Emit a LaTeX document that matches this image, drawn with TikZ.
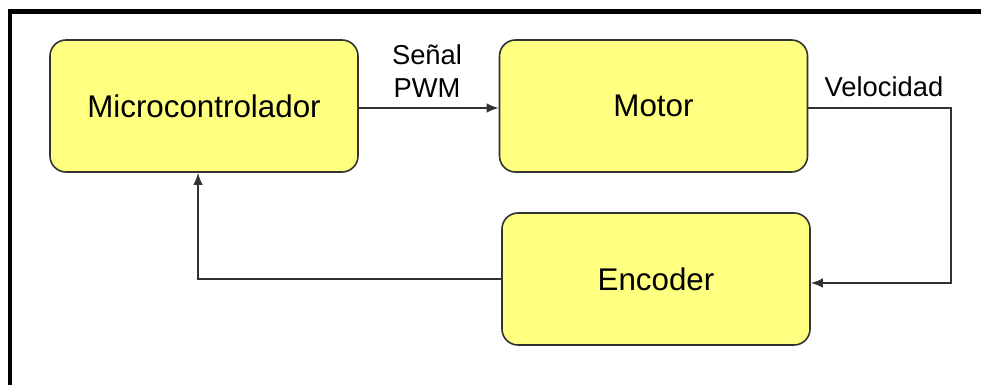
\documentclass[tikz,border=0pt]{standalone}
\usepackage{fontspec}
\setmainfont{Liberation Sans}
\usetikzlibrary{arrows.meta}
\definecolor{boxfill}{RGB}{255,255,128}
\definecolor{edge}{RGB}{50,50,50}
\tikzset{
  blk/.style={draw=edge, line width=1.2pt, fill=boxfill, rounded corners=12pt, minimum width=308*0.75pt, minimum height=132*0.75pt, inner sep=0pt, font=\fontsize{23.5}{28}\selectfont},
  lbl/.style={font=\fontsize{20.5}{24.5}\selectfont, inner sep=0pt, align=center},
  conn/.style={draw=edge, line width=1pt, -{Latex[length=9pt,width=7pt]}},
}
\begin{document}
\begin{tikzpicture}[x=0.75pt,y=-0.75pt]
\useasboundingbox (0,0) rectangle (981,385);
\fill[white] (0,0) rectangle (981,385);
\draw[line width=3.2pt] (10,385) -- (10,11.5) -- (981,11.5);
\node[blk] (mc) at (204,106) {Microcontrolador};
\node[blk] (mo) at (653.5,106) {Motor};
\node[blk] (en) at (656,279) {Encoder};
\node[lbl] (pwm) at (427,71) {Señal\\PWM};
\node[lbl] (vel) at (884,87) {Velocidad};
\coordinate (r1) at (951,108);
\coordinate (r2) at (951,283);
\coordinate (l1) at (198,279);
\draw[conn] (mc.east |- 0,108) -- (mo.west |- 0,108);
\draw[conn] (mo.east |- r1) -- (r1) -- (r2) -- (en.east |- r2);
\draw[conn] (en.west |- l1) -- (l1) -- (l1 |- mc.south);
\end{tikzpicture}
\end{document}
